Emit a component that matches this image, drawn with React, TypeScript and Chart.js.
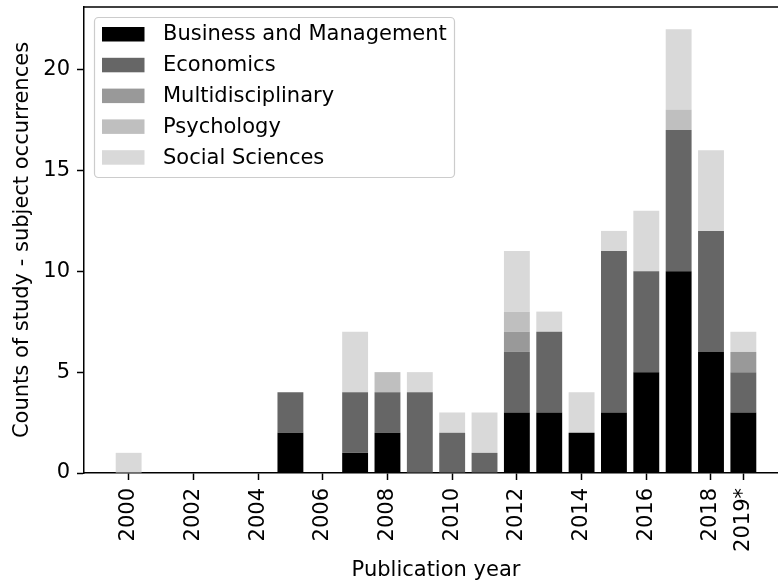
import React, { useEffect, useRef } from 'react';
import { Chart, registerables } from 'chart.js';

Chart.register(...registerables);

const years = [2000, 2001, 2002, 2003, 2004, 2005, 2006, 2007, 2008, 2009, 2010, 2011, 2012, 2013, 2014, 2015, 2016, 2017, 2018, 2019];
const business = [0, 0, 0, 0, 0, 2, 0, 1, 2, 0, 0, 0, 3, 3, 2, 3, 5, 10, 6, 3];
const economics = [0, 0, 0, 0, 0, 2, 0, 3, 2, 4, 2, 1, 3, 4, 0, 8, 5, 7, 6, 2];
const multidisciplinary = [0, 0, 0, 0, 0, 0, 0, 0, 0, 0, 0, 0, 1, 0, 0, 0, 0, 0, 0, 1];
const psychology = [0, 0, 0, 0, 0, 0, 0, 0, 1, 0, 0, 0, 1, 0, 0, 0, 0, 1, 0, 0];
const socialSciences = [1, 0, 0, 0, 0, 0, 0, 3, 0, 1, 1, 2, 3, 1, 2, 1, 3, 4, 4, 1];

const seriesNames = ['Business and Management', 'Economics', 'Multidisciplinary', 'Psychology', 'Social Sciences'];
const seriesColors = ['#000000', '#666666', '#999999', '#bfbfbf', '#d9d9d9'];

const xTickValues = [2000, 2002, 2004, 2006, 2008, 2010, 2012, 2014, 2016, 2018, 2019];
const xTickLabels = ['2000', '2002', '2004', '2006', '2008', '2010', '2012', '2014', '2016', '2018', '2019*'];
const yTickValues = [0, 5, 10, 15, 20];

const FONT = "'DejaVu Sans', sans-serif";
const FS = 21;

const legendPlugin = {
  id: 'insideLegend',
  afterDraw(chart: any) {
    const { ctx, chartArea } = chart;
    const x0 = chartArea.left + 10.5;
    const y0 = chartArea.top + 10.5;
    const w = 360;
    const h = 160;
    ctx.save();
    ctx.beginPath();
    const r = 4;
    ctx.moveTo(x0 + r, y0);
    ctx.lineTo(x0 + w - r, y0);
    ctx.arcTo(x0 + w, y0, x0 + w, y0 + r, r);
    ctx.lineTo(x0 + w, y0 + h - r);
    ctx.arcTo(x0 + w, y0 + h, x0 + w - r, y0 + h, r);
    ctx.lineTo(x0 + r, y0 + h);
    ctx.arcTo(x0, y0 + h, x0, y0 + h - r, r);
    ctx.lineTo(x0, y0 + r);
    ctx.arcTo(x0, y0, x0 + r, y0, r);
    ctx.closePath();
    ctx.fillStyle = 'rgba(255,255,255,0.8)';
    ctx.fill();
    ctx.strokeStyle = '#cccccc';
    ctx.lineWidth = 1.2;
    ctx.stroke();
    ctx.font = `${FS}px ${FONT}`;
    ctx.textBaseline = 'middle';
    ctx.textAlign = 'left';
    chart.data.datasets.forEach((ds: any, i: number) => {
      const cy = y0 + 16.5 + i * 30.8;
      ctx.fillStyle = ds.backgroundColor;
      ctx.fillRect(x0 + 7.5, cy - 7, 42.5, 14.5);
      ctx.fillStyle = '#000000';
      ctx.fillText(ds.label, x0 + 68.5, cy + 1);
    });
    ctx.restore();
  },
};

const topSpinePlugin = {
  id: 'topSpine',
  afterDatasetsDraw(chart: any) {
    const { ctx, chartArea } = chart;
    ctx.save();
    ctx.strokeStyle = '#000000';
    ctx.lineWidth = 1.5;
    ctx.beginPath();
    ctx.moveTo(chartArea.left - 0.75, chartArea.top);
    ctx.lineTo(chartArea.right + 1, chartArea.top);
    ctx.stroke();
    ctx.restore();
  },
};

export default function App() {
  const canvasRef = useRef<HTMLCanvasElement | null>(null);

  useEffect(() => {
    document.body.style.margin = '0';
    const canvas = canvasRef.current;
    if (!canvas) return;
    const seriesValues = [business, economics, multidisciplinary, psychology, socialSciences];
    const chart = new Chart(canvas, {
      type: 'bar',
      data: {
        datasets: seriesValues.map((vals, i) => ({
          label: seriesNames[i],
          data: years.map((y, j) => ({ x: y, y: vals[j] })),
          backgroundColor: seriesColors[i],
          borderWidth: 0,
          categoryPercentage: 1,
          barPercentage: 0.8,
        })),
      },
      options: {
        animation: false,
        responsive: false,
        devicePixelRatio: 1,
        layout: { padding: { left: 6, top: 7, right: 12, bottom: 0 } },
        plugins: {
          legend: { display: false },
          tooltip: { enabled: false },
        },
        scales: {
          x: {
            type: 'linear',
            stacked: true,
            offset: false,
            min: 1998.62,
            max: 2020.38,
            afterBuildTicks: (scale: any) => {
              scale.ticks = xTickValues.map((v) => ({ value: v }));
            },
            afterFit: (scale: any) => {
              scale.height = 110;
              scale.paddingLeft = 0;
              scale.paddingRight = 0;
            },
            ticks: {
              autoSkip: false,
              minRotation: 90,
              maxRotation: 90,
              padding: 8,
              color: '#000000',
              font: { family: FONT, size: FS },
              callback: (v: any) => {
                const idx = xTickValues.indexOf(Number(v));
                return idx >= 0 ? xTickLabels[idx] : '';
              },
            },
            grid: {
              offset: false,
              drawOnChartArea: false,
              drawTicks: true,
              tickLength: 7,
              tickWidth: 1.5,
              tickColor: '#000000',
            },
            border: { display: true, color: '#000000', width: 1.5 },
            title: {
              display: true,
              text: 'Publication year',
              color: '#000000',
              font: { family: FONT, size: FS },
              padding: { top: 4, bottom: 0 },
            },
          },
          y: {
            type: 'linear',
            stacked: true,
            min: 0,
            max: 23.1,
            afterBuildTicks: (scale: any) => {
              scale.ticks = yTickValues.map((v) => ({ value: v }));
            },
            afterFit: (scale: any) => {
              scale.width = 78;
              scale.paddingTop = 0;
              scale.paddingBottom = 0;
            },
            ticks: {
              padding: 7,
              color: '#000000',
              font: { family: FONT, size: FS },
            },
            grid: {
              drawOnChartArea: false,
              drawTicks: true,
              tickLength: 7,
              tickWidth: 1.5,
              tickColor: '#000000',
            },
            border: { display: true, color: '#000000', width: 1.5 },
            title: {
              display: true,
              text: 'Counts of study - subject occurrences',
              color: '#000000',
              font: { family: FONT, size: FS },
              padding: { top: 4, bottom: 4 },
            },
          },
        },
      },
      plugins: [legendPlugin, topSpinePlugin],
    } as any);
    return () => chart.destroy();
  }, []);

  return (
    <div style={{ width: 778, height: 583, overflow: 'hidden', position: 'relative', background: '#ffffff' }}>
      <canvas ref={canvasRef} width={800} height={583} style={{ width: 800, height: 583, display: 'block' }} />
    </div>
  );
}
